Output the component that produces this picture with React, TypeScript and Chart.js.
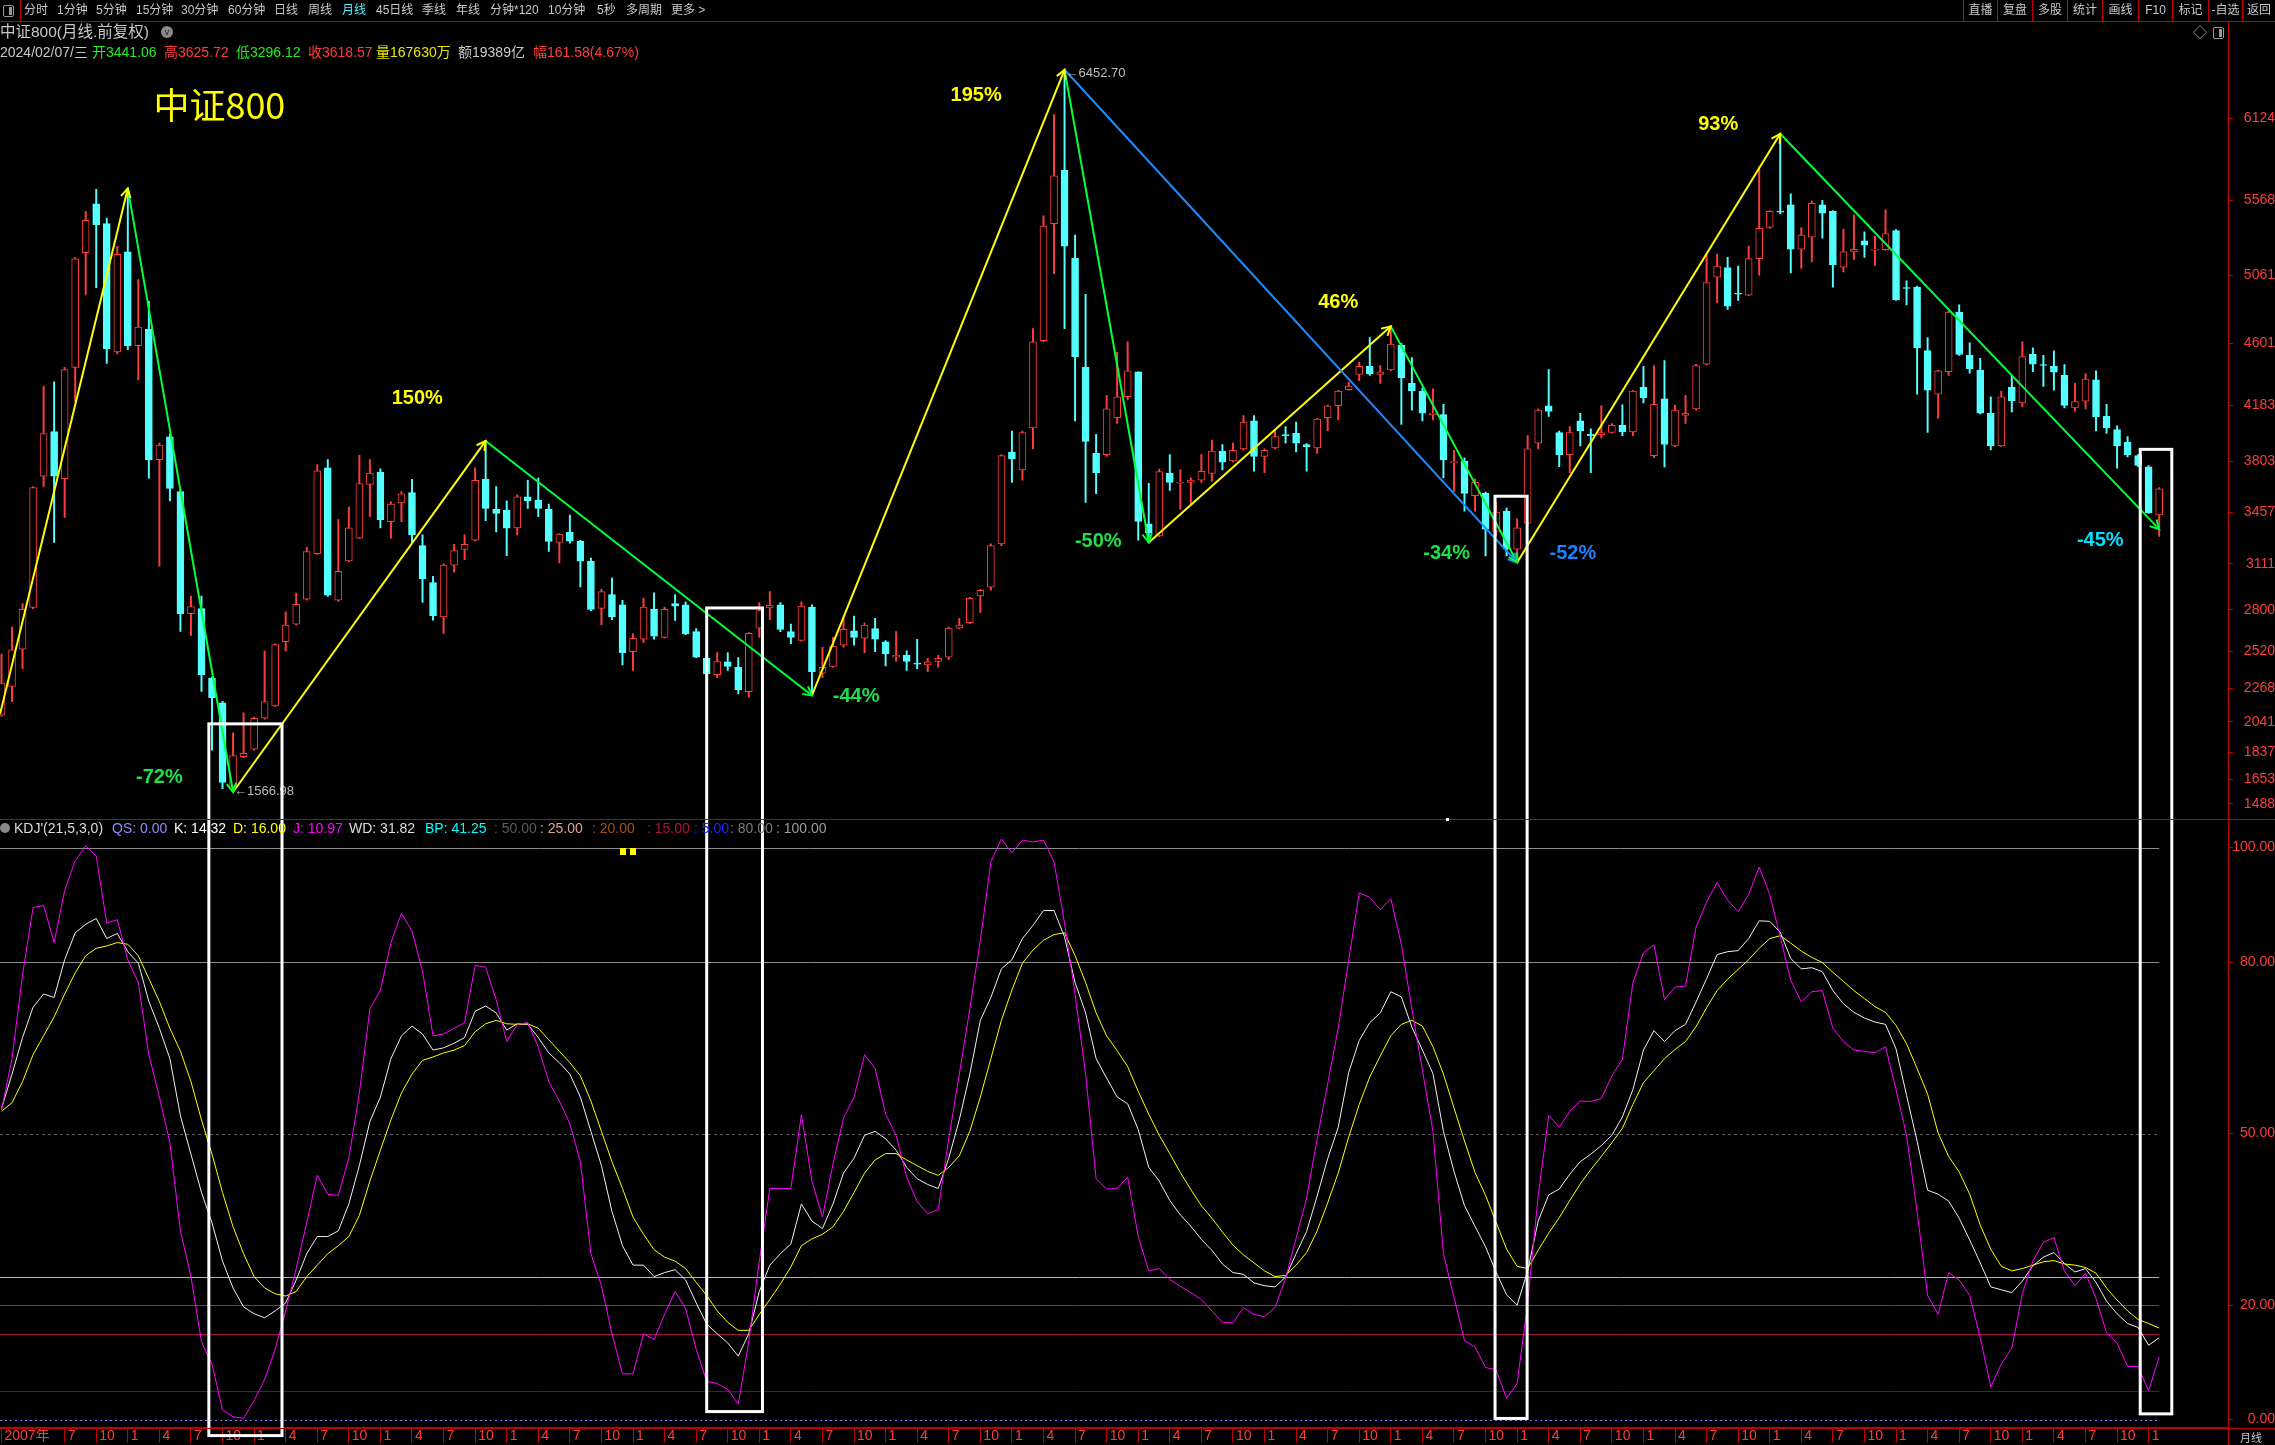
import React, { useEffect, useRef } from 'react';
import { Chart, registerables } from 'chart.js';

Chart.register(...registerables);

const W = 2275;
const H = 1445;
const FONT = '"Liberation Sans", Arial, "Noto Sans CJK SC", sans-serif';
Chart.defaults.font.family = FONT;

// ---------------- data: CSI 800 monthly candles, Jan 2007 .. Feb 2024 ----------------
const FIRST_YEAR = 2007;

const OPEN = [
  2086, 2282, 2534, 2816, 3704, 4006, 3687, 4440, 5216, 5546,
  5412, 4544, 5222, 4586, 4698, 3816, 3970, 3600, 2774, 2808,
  2338, 2170, 1604, 1806, 1856, 2066, 2150, 2584, 2702, 2872,
  3180, 3760, 2864, 3130, 3284, 3648, 3732, 3396, 3522, 3592,
  3234, 2984, 2752, 3102, 3208, 3270, 3682, 3480, 3472, 3354,
  3564, 3542, 3480, 3256, 3324, 3264, 3128, 2809, 2902, 2833,
  2516, 2601, 2803, 2613, 2842, 2833, 2652, 2471, 2360, 2447,
  2411, 2245, 2676, 2812, 2833, 2652, 2592, 2818, 2371, 2417,
  2561, 2658, 2607, 2673, 2583, 2480, 2492, 2438, 2426, 2450,
  2480, 2676, 2712, 2893, 2953, 3246, 3867, 3746, 4030, 4621,
  5411, 5772, 5178, 4440, 3858, 3849, 4099, 4241, 4410, 3382,
  3300, 3722, 3656, 3662, 3677, 3722, 3873, 3806, 3888, 4078,
  3837, 3894, 3984, 3993, 3918, 3894, 4099, 4180, 4289, 4392,
  4446, 4392, 4422, 4591, 4331, 4280, 4120, 4120, 3795, 3806,
  3571, 3587, 3330, 3466, 3210, 3385, 3927, 4180, 3999, 3849,
  4078, 3987, 3984, 3999, 4048, 4003, 4304, 3843, 4226, 3909,
  4114, 4159, 4461, 5049, 5115, 4940, 4928, 5175, 5386, 5495,
  5540, 5239, 5320, 5540, 5495, 5118, 5221, 5296, 5233, 5236,
  5365, 4976, 4982, 4554, 4259, 4410, 4814, 4521, 4422, 4129,
  3909, 4307, 4199, 4527, 4455, 4446, 4386, 4165, 4211, 4355,
  4108, 4018, 3933, 3843, 3767, 3441.06,
];
const HIGH = [
  2500, 2682, 2842, 3634, 4312, 4342, 4440, 5182, 5496, 5644,
  5450, 5258, 5650, 5034, 4886, 3928, 3990, 3610, 2892, 2892,
  2345, 2180, 1968, 2102, 2074, 2522, 2570, 2786, 2912, 3222,
  3782, 3816, 3410, 3494, 3844, 3816, 3754, 3530, 3600, 3682,
  3306, 3026, 3110, 3242, 3306, 3760, 3942, 3634, 3536, 3578,
  3676, 3690, 3514, 3315, 3440, 3270, 3150, 2938, 3014, 2863,
  2637, 2878, 2914, 2818, 2902, 2854, 2673, 2480, 2510, 2510,
  2477, 2646, 2848, 2923, 2848, 2703, 2854, 2833, 2546, 2613,
  2751, 2757, 2712, 2742, 2592, 2652, 2522, 2600, 2471, 2492,
  2682, 2742, 2884, 2938, 3246, 3849, 4009, 4009, 4702, 5465,
  6149, 6452.7, 5335, 4934, 3987, 4250, 4542, 4612, 4410, 3656,
  3752, 3849, 3746, 3692, 3849, 3948, 3918, 3927, 4114, 4114,
  3888, 4018, 4039, 4069, 3924, 4095, 4185, 4285, 4340, 4476,
  4642, 4452, 4723, 4603, 4506, 4301, 4295, 4190, 3879, 3828,
  3686, 3596, 3526, 3487, 3415, 3978, 4160, 4425, 4009, 4039,
  4129, 4024, 4180, 4060, 4186, 4285, 4446, 4452, 4485, 4185,
  4250, 4460, 5200, 5206, 5184, 5124, 5260, 5797, 5500, 6020,
  5613, 5386, 5567, 5570, 5500, 5374, 5471, 5356, 5326, 5507,
  5371, 5025, 4990, 4642, 4420, 4820, 4862, 4606, 4500, 4241,
  4280, 4386, 4612, 4572, 4521, 4551, 4458, 4331, 4398, 4416,
  4190, 4045, 3972, 3850, 3775, 3625.72,
];
const LOW = [
  2080, 2178, 2402, 2808, 3631, 3256, 3424, 4208, 4930, 4978,
  4466, 4530, 4560, 4354, 3690, 3094, 3536, 2654, 2626, 2248,
  1850, 1590, 1566.98, 1800, 1850, 2060, 2145, 2520, 2695, 2865,
  3175, 2890, 2856, 3125, 3280, 3430, 3354, 3284, 3396, 3256,
  2850, 2730, 2640, 3054, 3138, 3265, 3402, 3326, 3166, 3306,
  3486, 3430, 3194, 3116, 3250, 2954, 2794, 2697, 2733, 2426,
  2390, 2577, 2601, 2608, 2727, 2632, 2475, 2360, 2341, 2390,
  2230, 2209, 2613, 2733, 2652, 2570, 2588, 2220, 2341, 2412,
  2546, 2561, 2510, 2516, 2420, 2450, 2390, 2402, 2381, 2411,
  2462, 2670, 2706, 2782, 2932, 3234, 3662, 3677, 3888, 4612,
  5073, 4702, 4078, 3526, 3586, 3837, 4060, 4220, 3270, 3255,
  3295, 3608, 3481, 3518, 3662, 3668, 3746, 3800, 3879, 3737,
  3728, 3890, 3927, 3867, 3737, 3858, 4009, 4084, 4285, 4350,
  4386, 4331, 4418, 4054, 4150, 4078, 4084, 3692, 3601, 3466,
  3466, 3164, 3300, 3164, 3120, 3380, 3888, 4108, 3768, 3728,
  3909, 3728, 3963, 3995, 3978, 3978, 4199, 3828, 3767, 3903,
  4060, 4150, 4455, 4877, 4832, 4892, 4925, 5064, 5380, 5477,
  5079, 5109, 5154, 5314, 4982, 5085, 5170, 5184, 5130, 5230,
  4892, 4862, 4259, 3999, 4096, 4385, 4521, 4401, 4125, 3882,
  3905, 4138, 4174, 4410, 4310, 4286, 4165, 4144, 4159, 4009,
  3993, 3758, 3834, 3770, 3451, 3296.12,
];
const CLOSE = [
  2304, 2528, 2802, 3626, 3992, 3704, 4424, 5174, 5434, 5404,
  4566, 5205, 4586, 4712, 3816, 3914, 3620, 2774, 2822, 2360,
  2206, 1632, 1814, 1828, 2066, 2178, 2564, 2696, 2836, 3194,
  3740, 2898, 3060, 3354, 3654, 3724, 3410, 3514, 3584, 3306,
  3010, 2760, 3102, 3200, 3242, 3676, 3486, 3452, 3352, 3564,
  3536, 3486, 3262, 3312, 3264, 3128, 2803, 2923, 2751, 2510,
  2607, 2818, 2622, 2803, 2824, 2637, 2480, 2366, 2450, 2417,
  2260, 2640, 2794, 2830, 2667, 2613, 2824, 2381, 2411, 2552,
  2667, 2613, 2697, 2601, 2501, 2492, 2450, 2432, 2447, 2471,
  2676, 2697, 2878, 2932, 3234, 3843, 3822, 3999, 4612, 5396,
  5736, 5260, 4512, 3939, 3728, 4159, 4241, 4416, 3397, 3321,
  3734, 3662, 3662, 3677, 3737, 3873, 3798, 3879, 4069, 3837,
  3879, 3972, 3978, 3927, 3903, 4090, 4180, 4280, 4313, 4446,
  4395, 4410, 4597, 4370, 4280, 4129, 4129, 3813, 3800, 3587,
  3662, 3345, 3460, 3210, 3354, 3888, 4150, 4141, 3849, 3999,
  4009, 3978, 3999, 4048, 4003, 4280, 4235, 4190, 3918, 4150,
  4129, 4452, 5013, 5124, 4853, 4934, 5175, 5380, 5495, 5490,
  5239, 5335, 5549, 5483, 5133, 5221, 5239, 5266, 5239, 5344,
  4898, 4973, 4572, 4286, 4416, 4814, 4527, 4431, 4129, 3909,
  4241, 4214, 4512, 4461, 4452, 4407, 4183, 4208, 4361, 4105,
  4030, 3909, 3849, 3777, 3456.99, 3618.57,
];

// KDJ(21,5,3) values
const K_LINE = [
  54.4, 60.4, 66.8, 72.1, 74.4, 73.8, 80.4, 85.1, 86.6, 87.6,
  84.1, 85.0, 81.8, 79.8, 73.1, 68.4, 63.1, 53.1, 46.4, 39.7,
  34.4, 27.7, 23.0, 19.7, 18.5, 17.8, 19.0, 20.4, 24.4, 29.0,
  32.0, 32.0, 33.0, 37.7, 44.4, 52.1, 56.4, 63.1, 67.1, 68.8,
  67.4, 64.6, 65.0, 65.8, 66.8, 71.4, 72.3, 71.1, 68.1, 69.2,
  69.1, 66.8, 64.1, 62.4, 60.4, 56.4, 50.4, 44.4, 36.4, 30.4,
  27.0, 27.0, 25.0, 25.7, 26.2, 24.4, 20.4, 16.7, 15.0, 13.4,
  11.1, 15.0, 22.4, 27.0, 29.0, 30.7, 37.7, 34.7, 33.4, 37.7,
  43.1, 45.7, 49.7, 50.4, 49.1, 47.1, 44.1, 42.1, 41.1, 40.4,
  45.7, 52.4, 60.4, 69.8, 73.8, 78.8, 80.4, 84.1, 86.4, 89.0,
  89.0, 84.4, 76.4, 71.1, 63.1, 59.7, 56.4, 55.2, 50.7, 44.1,
  41.7, 38.3, 35.8, 33.8, 31.5, 29.6, 27.2, 25.7, 25.4, 23.9,
  23.4, 23.2, 24.9, 29.0, 32.9, 39.1, 45.6, 51.1, 60.7, 66.3,
  69.4, 71.1, 74.8, 73.9, 68.6, 64.6, 60.5, 50.4, 43.4, 37.4,
  33.8, 30.2, 25.8, 21.8, 20.0, 26.0, 34.7, 39.3, 40.3, 42.9,
  45.1, 46.4, 47.9, 49.7, 52.9, 57.7, 64.6, 68.0, 66.1, 68.0,
  69.1, 73.0, 77.1, 81.3, 81.8, 82.0, 84.1, 87.2, 87.1, 85.2,
  80.6, 78.8, 79.0, 78.3, 75.0, 72.7, 71.2, 70.2, 69.5, 69.1,
  64.8, 56.7, 48.7, 40.1, 39.4, 38.2, 35.2, 31.4, 27.4, 23.2,
  22.7, 22.2, 24.2, 26.9, 28.4, 29.2, 27.3, 25.8, 26.4, 24.0,
  20.7, 18.5, 16.8, 16.1, 13.0, 14.32,
];
const D_LINE = [
  53.9, 55.4, 59.1, 63.8, 67.1, 70.4, 74.4, 78.1, 81.1, 82.4,
  82.8, 83.4, 83.1, 81.1, 77.1, 73.1, 68.4, 64.4, 59.1, 52.4,
  46.4, 39.7, 33.7, 29.0, 25.0, 23.0, 22.0, 21.6, 22.4, 25.0,
  27.0, 29.0, 30.4, 32.0, 35.7, 41.7, 47.1, 52.4, 57.1, 60.4,
  62.8, 63.4, 64.1, 64.6, 65.4, 67.8, 69.2, 69.8, 69.2, 69.1,
  69.2, 68.4, 66.4, 64.4, 62.4, 60.1, 55.7, 50.4, 45.1, 40.4,
  35.4, 32.4, 29.7, 28.4, 27.7, 26.4, 24.0, 21.7, 19.0, 17.0,
  15.6, 15.6, 18.4, 21.0, 23.7, 26.7, 30.4, 31.6, 32.4, 33.7,
  36.4, 39.7, 43.1, 45.4, 46.5, 46.5, 45.4, 44.4, 43.4, 42.7,
  44.1, 46.1, 50.4, 56.4, 63.1, 69.8, 75.1, 79.8, 82.1, 83.8,
  84.8, 85.1, 81.1, 76.4, 71.1, 67.1, 64.5, 61.7, 57.4, 53.4,
  49.7, 46.5, 43.2, 40.2, 37.4, 35.2, 32.8, 30.5, 28.8, 27.4,
  26.0, 25.0, 25.2, 27.0, 29.2, 33.0, 37.9, 43.1, 49.4, 55.1,
  59.9, 63.6, 67.1, 69.1, 69.8, 68.8, 65.2, 60.4, 54.5, 48.7,
  43.2, 39.2, 34.5, 29.8, 26.8, 26.4, 29.6, 32.6, 35.3, 38.3,
  41.2, 43.7, 46.0, 48.4, 50.9, 55.1, 58.9, 61.0, 63.1, 64.7,
  66.1, 68.7, 72.0, 75.0, 77.0, 78.7, 80.4, 82.4, 84.1, 84.6,
  83.3, 81.9, 80.8, 79.9, 78.2, 76.6, 75.0, 73.6, 72.2, 71.2,
  68.9, 65.7, 61.4, 56.9, 50.1, 46.0, 43.3, 39.4, 34.0, 29.8,
  26.8, 26.0, 26.4, 27.0, 27.6, 27.8, 27.2, 27.0, 26.6, 25.6,
  23.0, 20.9, 19.0, 17.5, 16.8, 16.0,
];
const J_LINE = [
  54.1, 63.1, 77.8, 89.5, 89.9, 83.4, 92.5, 97.7, 100.3, 98.5,
  86.8, 87.4, 80.4, 76.4, 63.8, 56.4, 48.4, 33.0, 25.0, 13.6,
  9.7, 1.7, 0.5, 0.2, 3.3, 7.0, 12.3, 19.0, 26.4, 34.4,
  42.7, 39.4, 39.2, 45.7, 57.1, 71.8, 75.1, 83.4, 88.5, 85.4,
  78.4, 67.1, 67.4, 68.4, 69.4, 79.4, 79.1, 73.4, 66.1, 69.1,
  69.4, 65.1, 59.1, 55.7, 51.7, 45.1, 29.0, 23.4, 15.0, 8.0,
  8.0, 15.0, 14.0, 18.4, 22.4, 19.4, 12.3, 6.7, 6.3, 5.3,
  2.7, 13.7, 27.7, 40.4, 40.4, 40.4, 53.3, 41.7, 35.4, 44.7,
  52.7, 56.4, 63.8, 61.4, 53.4, 49.7, 42.4, 38.1, 36.0, 36.7,
  49.1, 60.4, 71.8, 83.8, 97.5, 101.5, 99.1, 101.3, 101.0, 101.3,
  97.5, 86.8, 74.4, 60.4, 42.1, 40.3, 40.4, 42.4, 32.0, 26.0,
  26.4, 24.5, 23.3, 22.2, 21.0, 19.0, 17.0, 16.9, 19.6, 18.4,
  18.0, 19.6, 24.7, 31.7, 38.7, 49.1, 58.7, 68.4, 80.4, 92.1,
  91.3, 89.1, 91.1, 83.1, 71.8, 61.1, 50.4, 29.0, 21.4, 13.8,
  12.7, 9.1, 8.7, 3.7, 6.3, 20.4, 39.1, 53.2, 51.1, 53.9,
  55.7, 55.6, 56.1, 60.1, 63.0, 76.4, 81.6, 83.0, 73.4, 75.6,
  75.8, 86.1, 90.5, 93.9, 90.8, 88.8, 91.8, 96.6, 91.8, 84.4,
  76.8, 73.0, 74.8, 75.0, 68.4, 66.1, 64.6, 64.4, 64.1, 65.2,
  57.7, 49.7, 36.4, 21.7, 18.4, 25.7, 24.4, 21.7, 14.4, 5.7,
  9.7, 12.5, 22.0, 27.7, 31.0, 31.8, 26.0, 23.4, 25.6, 21.2,
  15.2, 13.4, 9.3, 9.3, 5.0, 10.97,
];

const PRICE_TICKS = [1488, 1653, 1837, 2041, 2268, 2520, 2800, 3111, 3457, 3803, 4183, 4601, 5061, 5568, 6124];
const KDJ_TICKS = [0, 20, 50, 80, 100];

const KDJ_LEVEL_VALUES = [100, 80, 50, 25, 20, 15, 5, 0];
const KDJ_LEVEL_COLORS = ['#8c8c8c', '#8c8c8c', '#5c5c5c', '#dca48c', '#8c4010', '#a01048', '#1414ff', '#7c7cff'];
const KDJ_LEVEL_DASH = [[], [], [3, 3], [], [], [], [], [2, 3]];
const HEADER_LEVEL_ORDER = [50, 25, 20, 15, 5, 80, 100];
const HEADER_LEVEL_COLORS = ['#5a5a5a', '#dca48c', '#a0521c', '#b0103c', '#2020ff', '#7c7c7c', '#9c9c9c'];
const KDJ_PARAMS = '21,5,3,0';
const KDJ_QS = 0;
const KDJ_WD = 31.82;
const KDJ_BP = 41.25;

// swing pivots (month index, price) and the zig-zag segments between them
const PIVOT_INDEX = [-0.14, 12, 22, 46, 77, 101, 109, 132, 144, 169, 205];
const PIVOT_PRICE = [2094, 5650, 1566.98, 3942, 2220, 6452.7, 3255, 4717, 3120, 6020, 3345];
const SEG_FROM = [0, 1, 2, 3, 4, 5, 5, 6, 7, 8, 9];
const SEG_TO = [1, 2, 3, 4, 5, 6, 8, 7, 8, 9, 10];
const SEG_COLOR = ['#ffff00', '#00ff3c', '#ffff00', '#00ff3c', '#ffff00', '#00ff3c', '#1e8cff', '#ffff00', '#00ff3c', '#ffff00', '#00ff3c'];

const SWING_TEXT = ['-72%', '150%', '195%', '-44%', '-50%', '46%', '-34%', '-52%', '93%', '-45%'];
const SWING_TEXT_INDEX = [15.0, 39.5, 92.6, 81.2, 104.2, 127.0, 137.3, 149.3, 163.1, 199.4];
const SWING_TEXT_PRICE = [1664, 4230, 6276, 2211, 3264, 4878, 3183, 3183, 6080, 3271];
const SWING_TEXT_COLOR = ['#1ee04a', '#ffff00', '#ffff00', '#1ee04a', '#1ee04a', '#ffff00', '#1ee04a', '#1e82ff', '#ffff00', '#00e0ff'];

const BOX_FROM = [19.7, 67.0, 141.9, 203.2];
const BOX_TO = [26.65, 72.3, 144.95, 206.2];
const BOX_TOP_PRICE = [2028, 2812, 3568, 3885];
const BOX_BOTTOM_KDJ = [-2.8, 1.4, 0.2, 1.0];

const TITLE = '中证800';
const TITLE_INDEX = 20.7;
const TITLE_PRICE = 6215;

const VOLUME_WAN = 167630;
const AMOUNT_YI = 19389;

// ---------------- derived ----------------
const N = CLOSE.length;
const LAST = N - 1;
const IDX = Array.from({ length: N }, (_, i) => i);
const UP = '#ff3c3c';
const DOWN = '#54ffff';
const AXIS_LINE = '#c40000';
const AXIS_TEXT = '#ff3c3c';
const X_TICKS = IDX.filter((i) => i % 3 === 0 && i !== 3);
const xLabel = (i: number) => (i === 0 ? `${FIRST_YEAR}年` : String((i % 12) + 1));
const PEAK_I = HIGH.indexOf(Math.max(...HIGH));
const TROUGH_I = LOW.indexOf(Math.min(...LOW));

const overlayPlugin = {
  id: 'zzOverlay',
  beforeDatasetsDraw(chart: any) {
    const { ctx, scales } = chart;
    const xs = scales.x;
    const ks = scales.kdj;
    const x0 = xs.left;
    const x1 = xs.getPixelForValue(LAST);
    ctx.save();
    KDJ_LEVEL_VALUES.forEach((v, k) => {
      const y = Math.round(ks.getPixelForValue(v)) + 0.5;
      ctx.strokeStyle = KDJ_LEVEL_COLORS[k];
      ctx.lineWidth = 1;
      ctx.setLineDash(KDJ_LEVEL_DASH[k]);
      ctx.beginPath();
      ctx.moveTo(x0, y);
      ctx.lineTo(x1, y);
      ctx.stroke();
    });
    ctx.restore();
  },
  afterDatasetsDraw(chart: any) {
    const { ctx, scales } = chart;
    const xs = scales.x;
    const ys = scales.y;
    const ks = scales.kdj;
    ctx.save();
    // arrow heads at the end of every swing segment
    chart.data.datasets.forEach((ds: any, di: number) => {
      if (!ds.swing) return;
      const pts = chart.getDatasetMeta(di).data;
      const a = pts[0];
      const b = pts[1];
      const ang = Math.atan2(b.y - a.y, b.x - a.x);
      const len = 10;
      const spread = 0.5;
      ctx.strokeStyle = ds.borderColor;
      ctx.lineWidth = 2;
      ctx.beginPath();
      ctx.moveTo(b.x - len * Math.cos(ang - spread), b.y - len * Math.sin(ang - spread));
      ctx.lineTo(b.x, b.y);
      ctx.lineTo(b.x - len * Math.cos(ang + spread), b.y - len * Math.sin(ang + spread));
      ctx.stroke();
    });
    // swing percentages
    ctx.font = `bold 20px ${FONT}`;
    ctx.textAlign = 'center';
    ctx.textBaseline = 'middle';
    SWING_TEXT.forEach((t, k) => {
      ctx.fillStyle = SWING_TEXT_COLOR[k];
      ctx.fillText(t, xs.getPixelForValue(SWING_TEXT_INDEX[k]), ys.getPixelForValue(SWING_TEXT_PRICE[k]));
    });
    // title
    ctx.font = `36px "Noto Sans CJK SC", sans-serif`;
    ctx.fillStyle = '#ffff00';
    ctx.fillText(TITLE, xs.getPixelForValue(TITLE_INDEX), ys.getPixelForValue(TITLE_PRICE));
    // extreme price labels
    ctx.font = `13px ${FONT}`;
    ctx.fillStyle = '#bcbcbc';
    ctx.textAlign = 'left';
    ctx.fillText('←' + HIGH[PEAK_I].toFixed(2), xs.getPixelForValue(PEAK_I) + 1, ys.getPixelForValue(HIGH[PEAK_I]) + 4);
    ctx.fillText('←' + LOW[TROUGH_I].toFixed(2), xs.getPixelForValue(TROUGH_I) + 1, ys.getPixelForValue(LOW[TROUGH_I]) - 1);
    // highlight boxes spanning both panes
    ctx.strokeStyle = '#ffffff';
    ctx.lineWidth = 3;
    BOX_FROM.forEach((f, k) => {
      const l = xs.getPixelForValue(f);
      const r = xs.getPixelForValue(BOX_TO[k]);
      const t = ys.getPixelForValue(BOX_TOP_PRICE[k]);
      const b = ks.getPixelForValue(BOX_BOTTOM_KDJ[k]);
      ctx.strokeRect(l, t, r - l, b - t);
    });
    ctx.restore();
  },
  afterDraw(chart: any) {
    const { ctx, scales, chartArea } = chart;
    ctx.save();
    ctx.strokeStyle = AXIS_LINE;
    ctx.lineWidth = 1;
    const ySep = Math.round(scales.y.bottom) + 0.5;
    const xr = Math.round(chartArea.right) + 0.5;
    const yb = Math.round(chartArea.bottom) + 0.5;
    ctx.beginPath();
    ctx.moveTo(0, ySep);
    ctx.lineTo(W, ySep);
    ctx.moveTo(xr, 22);
    ctx.lineTo(xr, H);
    ctx.moveTo(0, yb);
    ctx.lineTo(W, yb);
    ctx.stroke();
    ctx.restore();
  },
};

const TOP_TABS: [string, number][] = [
  ['分时', 24], ['1分钟', 57], ['5分钟', 96], ['15分钟', 136], ['30分钟', 181], ['60分钟', 228],
  ['日线', 274], ['周线', 308], ['月线', 342], ['45日线', 376], ['季线', 422], ['年线', 456],
  ['分钟*120', 490], ['10分钟', 548], ['5秒', 597], ['多周期', 626], ['更多 >', 671],
];
const RIGHT_BTNS = ['直播', '复盘', '多股', '统计', '画线', 'F10', '标记', '-自选', '返回'];
const RIGHT_BTN_X = [1963, 1997, 2032, 2067, 2102, 2138, 2172, 2208, 2242, 2275];

const GRAY = '#c8c8c8';
const GREEN = '#22ee22';
const RED = '#ff3c3c';
const YELLOW = '#e6e600';

export default function App() {
  const ref = useRef<HTMLCanvasElement>(null);

  useEffect(() => {
    const canvas = ref.current;
    if (!canvas) return;
    const color = (i: number) => (CLOSE[i] >= OPEN[i] ? UP : DOWN);
    const swingSets = SEG_FROM.map((a, k) => ({
      type: 'line',
      swing: true,
      yAxisID: 'y',
      data: [
        { x: PIVOT_INDEX[a], y: PIVOT_PRICE[a] },
        { x: PIVOT_INDEX[SEG_TO[k]], y: PIVOT_PRICE[SEG_TO[k]] },
      ],
      borderColor: SEG_COLOR[k],
      borderWidth: 2,
      pointRadius: 0,
      order: 1,
    }));
    const kdjSet = (vals: number[], c: string) => ({
      type: 'line',
      yAxisID: 'kdj',
      data: IDX.map((i) => ({ x: i, y: vals[i] })),
      borderColor: c,
      borderWidth: 1,
      pointRadius: 0,
      order: 2,
    });
    const chart = new Chart(canvas, {
      type: 'line',
      data: {
        datasets: [
          {
            type: 'bar',
            yAxisID: 'y',
            data: IDX.map((i) => ({ x: i, y: [LOW[i], HIGH[i]] })),
            backgroundColor: IDX.map(color),
            borderWidth: 0,
            barThickness: 1.3,
            grouped: false,
            order: 6,
          },
          {
            type: 'bar',
            yAxisID: 'y',
            data: IDX.map((i) => ({ x: i, y: [OPEN[i], CLOSE[i]] })),
            backgroundColor: IDX.map((i) => (CLOSE[i] >= OPEN[i] ? '#000000' : DOWN)),
            borderColor: IDX.map(color),
            borderWidth: 1,
            borderSkipped: false,
            barThickness: 7,
            minBarLength: 1,
            grouped: false,
            order: 5,
          },
          ...swingSets,
          kdjSet(J_LINE, '#ff00ff'),
          kdjSet(D_LINE, '#ffff00'),
          kdjSet(K_LINE, '#f0f0f0'),
        ] as any,
      },
      options: {
        responsive: false,
        animation: false,
        devicePixelRatio: 1,
        events: [],
        layout: { padding: { top: 50, left: 0, right: 0, bottom: 0 } },
        plugins: { legend: { display: false }, tooltip: { enabled: false } },
        scales: {
          x: {
            type: 'linear',
            position: 'bottom',
            min: -0.1425,
            max: 211.54,
            offset: false,
            afterBuildTicks: (s: any) => {
              s.ticks = X_TICKS.map((v) => ({ value: v }));
            },
            afterFit: (s: any) => {
              s.height = 15;
            },
            ticks: {
              autoSkip: false,
              maxRotation: 0,
              minRotation: 0,
              align: 'start',
              padding: -15,
              labelOffset: 3,
              color: AXIS_TEXT,
              font: { size: 14 },
              callback: (v: any) => xLabel(Number(v)),
            },
            grid: { offset: false, drawOnChartArea: false, drawTicks: true, tickLength: 15, color: AXIS_LINE, tickColor: AXIS_LINE },
            border: { color: AXIS_LINE },
          },
          y: {
            type: 'linear',
            position: 'right',
            stack: 'panes',
            stackWeight: 770,
            min: 1386.7,
            max: 6586.6,
            afterBuildTicks: (s: any) => {
              s.ticks = PRICE_TICKS.map((v) => ({ value: v }));
            },
            afterFit: (s: any) => {
              s.width = 47;
            },
            ticks: {
              autoSkip: false,
              crossAlign: 'far',
              padding: 9,
              color: AXIS_TEXT,
              font: { size: 14 },
              callback: (v: any) => String(v),
            },
            grid: { drawOnChartArea: false, drawTicks: true, tickLength: 5, color: AXIS_LINE, tickColor: AXIS_LINE },
            border: { color: AXIS_LINE },
          },
          kdj: {
            type: 'linear',
            position: 'right',
            stack: 'panes',
            stackWeight: 610,
            min: -1.4,
            max: 105.06,
            afterBuildTicks: (s: any) => {
              s.ticks = KDJ_TICKS.map((v) => ({ value: v }));
            },
            afterFit: (s: any) => {
              s.width = 47;
            },
            ticks: {
              autoSkip: false,
              crossAlign: 'far',
              padding: -2,
              color: AXIS_TEXT,
              font: { size: 14 },
              callback: (v: any) => Number(v).toFixed(2),
            },
            grid: { drawOnChartArea: false, drawTicks: true, tickLength: 5, color: AXIS_LINE, tickColor: AXIS_LINE },
            border: { color: AXIS_LINE },
          },
        },
      } as any,
      plugins: [overlayPlugin],
    });
    return () => chart.destroy();
  }, []);

  const abs = (left: number, top: number, extra: any = {}) => ({ position: 'absolute' as const, left, top, whiteSpace: 'nowrap' as const, ...extra });
  const o = OPEN[LAST];
  const prevClose = CLOSE[LAST - 1];
  const chg = CLOSE[LAST] - prevClose;
  const row3: [string, number, string][] = [
    ['2024/02/07/三', 0, GRAY],
    ['开' + o.toFixed(2), 92, GREEN],
    ['高' + HIGH[LAST].toFixed(2), 164, RED],
    ['低' + LOW[LAST].toFixed(2), 236, GREEN],
    ['收' + CLOSE[LAST].toFixed(2), 308, RED],
    ['量' + VOLUME_WAN + '万', 376, YELLOW],
    ['额' + AMOUNT_YI + '亿', 458, GRAY],
    ['幅' + chg.toFixed(2) + '(' + ((chg / prevClose) * 100).toFixed(2) + '%)', 533, RED],
  ];
  const header: [string, number, string][] = [
    [`KDJ'(${KDJ_PARAMS})`, 14, '#dcdcdc'],
    [`QS: ${KDJ_QS.toFixed(2)}`, 112, '#8c8cff'],
    [`K: ${K_LINE[LAST].toFixed(2)}`, 174, '#ffffff'],
    [`D: ${D_LINE[LAST].toFixed(2)}`, 233, '#ffff00'],
    [`J: ${J_LINE[LAST].toFixed(2)}`, 293, '#ff00ff'],
    [`WD: ${KDJ_WD.toFixed(2)}`, 349, '#dcdcdc'],
    [`BP: ${KDJ_BP.toFixed(2)}`, 425, '#00ffff'],
  ];
  const levelX = [494, 540, 592, 647, 694, 730, 776];

  return (
    <div style={{ position: 'fixed', left: 0, top: 0, width: W, height: H, background: '#000', overflow: 'hidden', fontFamily: FONT }}>
      <canvas ref={ref} width={W} height={H} style={{ position: 'absolute', left: 0, top: 0, width: W, height: H }} />

      {/* top tool bar */}
      <div style={abs(3, 5, { width: 9, height: 10, border: '1px solid #9a9a9a', borderRadius: 2 })}>
        <div style={{ position: 'absolute', right: 1, top: 1, width: 3, height: 8, background: '#9a9a9a' }} />
      </div>
      <div style={abs(20, 0, { width: 1, height: 21, background: AXIS_LINE })} />
      {TOP_TABS.map(([t, x]) => (
        <div key={t} style={abs(x, 0, { height: 21, lineHeight: '21px', fontSize: 12, color: t === '月线' ? '#50f0ff' : GRAY })}>{t}</div>
      ))}
      {RIGHT_BTNS.map((t, k) => (
        <div key={t} style={abs(RIGHT_BTN_X[k], 0, { width: RIGHT_BTN_X[k + 1] - RIGHT_BTN_X[k], height: 21, lineHeight: '21px', fontSize: 12, color: GRAY, textAlign: 'center', borderLeft: `1px solid ${AXIS_LINE}`, boxSizing: 'border-box' })}>{t}</div>
      ))}
      <div style={abs(0, 21, { width: W, height: 1, background: AXIS_LINE })} />

      {/* info rows */}
      <div style={abs(0, 23, { height: 18, lineHeight: '18px', fontSize: 15.5, color: GRAY })}>中证800(月线.前复权)</div>
      <div style={abs(161, 26, { width: 12, height: 12, borderRadius: 6, background: '#8a8a8a', color: '#222', fontSize: 9, lineHeight: '12px', textAlign: 'center' })}>v</div>
      {row3.map(([t, x, c]) => (
        <div key={t} style={abs(x, 44, { height: 16, lineHeight: '16px', fontSize: 14, color: c })}>{t}</div>
      ))}
      <div style={abs(2193, 24, { fontSize: 14, lineHeight: '16px', color: '#a0a0a0' })}>◇</div>
      <div style={abs(2213, 27, { width: 9, height: 10, border: '1px solid #9a9a9a', borderRadius: 2 })}>
        <div style={{ position: 'absolute', right: 1, top: 1, width: 3, height: 8, background: '#9a9a9a' }} />
      </div>

      {/* KDJ header */}
      <div style={abs(0, 823, { width: 10, height: 10, borderRadius: 5, background: '#8a8a8a' })} />
      {header.map(([t, x, c]) => (
        <div key={t} style={abs(x, 820, { height: 16, lineHeight: '16px', fontSize: 14, color: c })}>{t}</div>
      ))}
      {HEADER_LEVEL_ORDER.map((v, k) => (
        <div key={v} style={abs(levelX[k], 820, { height: 16, lineHeight: '16px', fontSize: 14, color: HEADER_LEVEL_COLORS[k] })}>{': ' + v.toFixed(2)}</div>
      ))}
      <div style={abs(620, 848, { width: 6, height: 7, background: '#ffff00' })} />
      <div style={abs(630, 848, { width: 6, height: 7, background: '#ffff00' })} />
      <div style={abs(1446, 818, { width: 3, height: 3, background: '#ffffff' })} />

      <div style={abs(2240, 1431, { fontSize: 11, lineHeight: '14px', color: GRAY })}>月线</div>
    </div>
  );
}
